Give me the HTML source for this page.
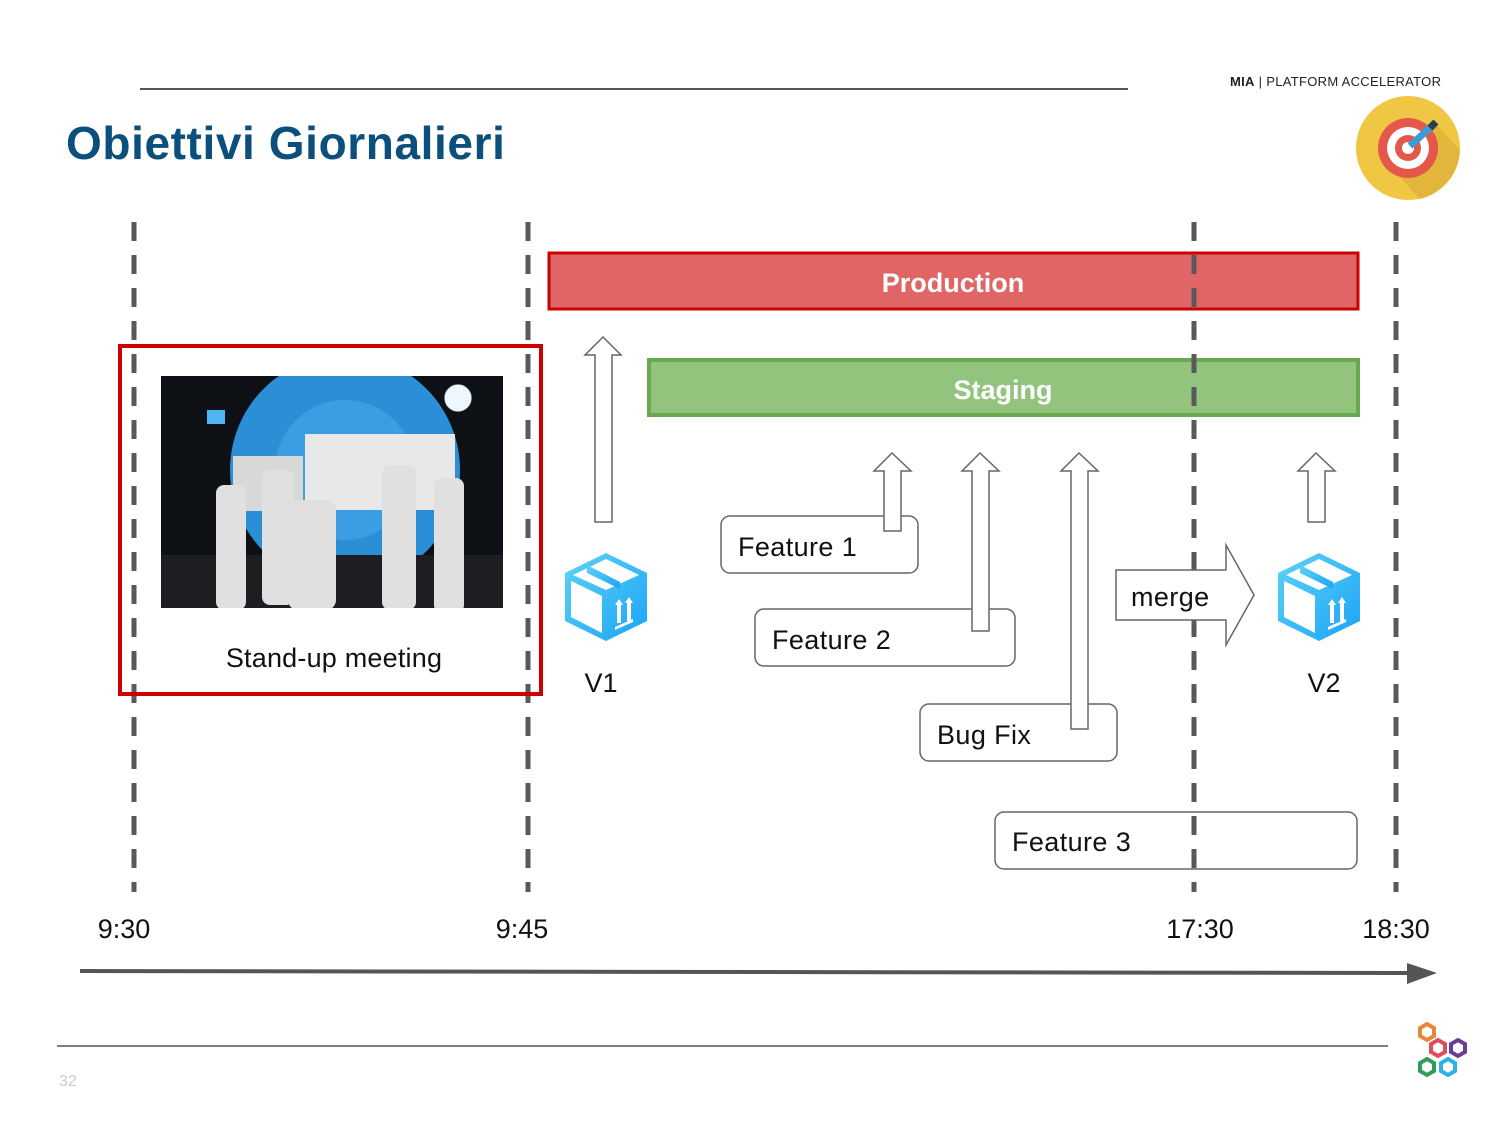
<!DOCTYPE html>
<html><head><meta charset="utf-8"><style>
html,body{margin:0;padding:0;background:#fff;}
svg{display:block;font-family:"Liberation Sans",Arial,sans-serif;}
</style></head><body>
<svg width="1500" height="1125" viewBox="0 0 1500 1125" xmlns="http://www.w3.org/2000/svg">
<defs>
<linearGradient id="bx" x1="0" y1="0" x2="1" y2="1"><stop offset="0" stop-color="#5fd3f7"/><stop offset="1" stop-color="#1aa3f5"/></linearGradient>
<clipPath id="ic"><rect x="161" y="376" width="342" height="232"/></clipPath>
<g id="box">
<path d="M41 0 L82 20 L82 68 L41 88 L0 68 L0 20 Z" fill="url(#bx)"/>
<path d="M41 6 L74 22 L41 37 L8 22 Z" fill="#fff"/>
<path d="M6 28 L37 43 L37 80 L6 64 Z" fill="#fff"/>
<path d="M22 12 L55 29 L55 36 L22 20 Z" fill="url(#bx)"/>
<path d="M50 52 l4 -6 l4 6 h-2 v18 h-4 v-18z M60 50 l4 -6 l4 6 h-2 v18 h-4 v-18z M50 74 l18 -8 v3 l-18 8z" fill="#fff"/>
</g>
</defs>
<rect width="1500" height="1125" fill="#fff"/>
<line x1="140" y1="89" x2="1128" y2="89" stroke="#555" stroke-width="2"/>
<text x="1230" y="86" font-size="13" fill="#222" letter-spacing="0.3"><tspan font-weight="bold">MIA</tspan> | PLATFORM ACCELERATOR</text>
<text x="66" y="159" font-size="46" font-weight="bold" fill="#0b4f7c" letter-spacing="0.6">Obiettivi Giornalieri</text>
<!-- target icon -->
<circle cx="1408" cy="148" r="52" fill="#f0c742"/>
<path d="M1432 120 L1460 150 A52 52 0 0 1 1420 199 L1395 172 Z" fill="#ddb23a" opacity="0.8"/>
<circle cx="1408" cy="148" r="30" fill="#e4574a"/>
<circle cx="1408" cy="148" r="21" fill="#fff"/>
<circle cx="1408" cy="148" r="13" fill="#e4574a"/>
<circle cx="1408" cy="148" r="6" fill="#fff"/>
<line x1="1410" y1="146" x2="1434" y2="124" stroke="#3a9bd9" stroke-width="7"/>
<line x1="1430" y1="128" x2="1436" y2="122" stroke="#2c3e50" stroke-width="7"/>
<!-- production / staging -->
<rect x="549" y="253" width="809" height="56" fill="#e06666" stroke="#cc0000" stroke-width="3"/>
<text x="953" y="292" font-size="27" font-weight="bold" fill="#fff" text-anchor="middle">Production</text>
<rect x="649" y="360" width="709" height="55" fill="#93c47d" stroke="#6aa84f" stroke-width="4"/>
<text x="1003" y="399" font-size="27" font-weight="bold" fill="#fff" text-anchor="middle">Staging</text>
<!-- feature boxes -->
<g fill="#fff" stroke="#666" stroke-width="1.5">
<rect x="721" y="516" width="197" height="57" rx="9"/>
<rect x="755" y="609" width="260" height="57" rx="9"/>
<rect x="920" y="704" width="197" height="57" rx="9"/>
<rect x="995" y="812" width="362" height="57" rx="9"/>
</g>
<g font-size="27" fill="#111" letter-spacing="0.4">
<text x="738" y="556">Feature 1</text>
<text x="772" y="649">Feature 2</text>
<text x="937" y="744">Bug Fix</text>
<text x="1012" y="851">Feature 3</text>
</g>
<!-- up arrows -->
<g fill="#fff" stroke="#666" stroke-width="1.5">
<path d="M595 522 V355 H585 L603 337 L621 355 H612 V522 Z"/>
<path d="M884 531 V471 H874 L892 453 L911 471 H901 V531 Z"/>
<path d="M972 631 V471 H962 L980 453 L999 471 H989 V631 Z"/>
<path d="M1071 729 V471 H1061 L1079 453 L1098 471 H1088 V729 Z"/>
<path d="M1308 522 V471 H1298 L1316 453 L1335 471 H1325 V522 Z"/>
</g>
<!-- dashed lines -->
<g stroke="#595959" stroke-width="5" stroke-dasharray="19 14">
<line x1="134" y1="222" x2="134" y2="892"/>
<line x1="528" y1="222" x2="528" y2="892"/>
<line x1="1194" y1="222" x2="1194" y2="892"/>
<line x1="1396" y1="222" x2="1396" y2="892"/>
</g>
<!-- merge -->
<path d="M1116 570 H1226 V545 L1254 595 L1226 645 V620 H1116 Z" fill="#fff" stroke="#666" stroke-width="1.5"/>
<text x="1131" y="606" font-size="27" fill="#111" letter-spacing="0.4">merge</text>
<!-- standup -->
<rect x="120" y="346" width="421" height="348" fill="none" stroke="#cc0000" stroke-width="4"/>
<g clip-path="url(#ic)">
<rect x="161" y="376" width="342" height="232" fill="#0d1014"/>
<circle cx="345" cy="470" r="115" fill="#2a8fd6"/>
<circle cx="345" cy="470" r="70" fill="#4aa9ea" opacity="0.6"/>
<rect x="161" y="555" width="342" height="53" fill="#1c1e22"/>
<rect x="305" y="434" width="150" height="76" fill="#e8e8e8"/>
<rect x="233" y="456" width="70" height="55" fill="#d8d8d8"/>
<circle cx="458" cy="398" r="14" fill="#eef6ff" stroke="#222"/>
<rect x="207" y="410" width="18" height="14" fill="#4fb5f0"/>
<g fill="#e0e0e0">
<rect x="216" y="485" width="30" height="125" rx="8"/>
<rect x="262" y="470" width="32" height="135" rx="8"/>
<rect x="288" y="500" width="48" height="110" rx="10"/>
<rect x="382" y="465" width="34" height="145" rx="8"/>
<rect x="434" y="478" width="30" height="135" rx="8"/>
</g>
</g>
<text x="334" y="667" font-size="27" fill="#111" text-anchor="middle" letter-spacing="0.2">Stand-up meeting</text>
<!-- boxes -->
<use href="#box" x="565" y="553"/>
<use href="#box" x="1278" y="553"/>
<text x="601" y="692" font-size="27" fill="#111" text-anchor="middle">V1</text>
<text x="1324" y="692" font-size="27" fill="#111" text-anchor="middle">V2</text>
<!-- time axis -->
<g font-size="27" fill="#111" text-anchor="middle">
<text x="124" y="938">9:30</text>
<text x="522" y="938">9:45</text>
<text x="1200" y="938">17:30</text>
<text x="1396" y="938">18:30</text>
</g>
<line x1="80" y1="971" x2="1410" y2="973" stroke="#555" stroke-width="4"/>
<path d="M1407 963 L1437 973 L1407 984 Z" fill="#555"/>
<line x1="57" y1="1046" x2="1388" y2="1046" stroke="#555" stroke-width="1.5"/>
<text x="59" y="1086" font-size="16" fill="#ccc">32</text>
<!-- logo -->
<g fill="none" stroke-width="4">
<path d="M1427 1024 l7 4 v8 l-7 4 l-7 -4 v-8z" stroke="#e8863a"/>
<path d="M1438 1040 l7 4 v8 l-7 4 l-7 -4 v-8z" stroke="#e34b5a"/>
<path d="M1458 1040 l7 4 v8 l-7 4 l-7 -4 v-8z" stroke="#6a3d9a"/>
<path d="M1427 1059 l7 4 v8 l-7 4 l-7 -4 v-8z" stroke="#2e9e5b"/>
<path d="M1448 1059 l7 4 v8 l-7 4 l-7 -4 v-8z" stroke="#2bb3e0"/>
</g>
</svg>
</body></html>
